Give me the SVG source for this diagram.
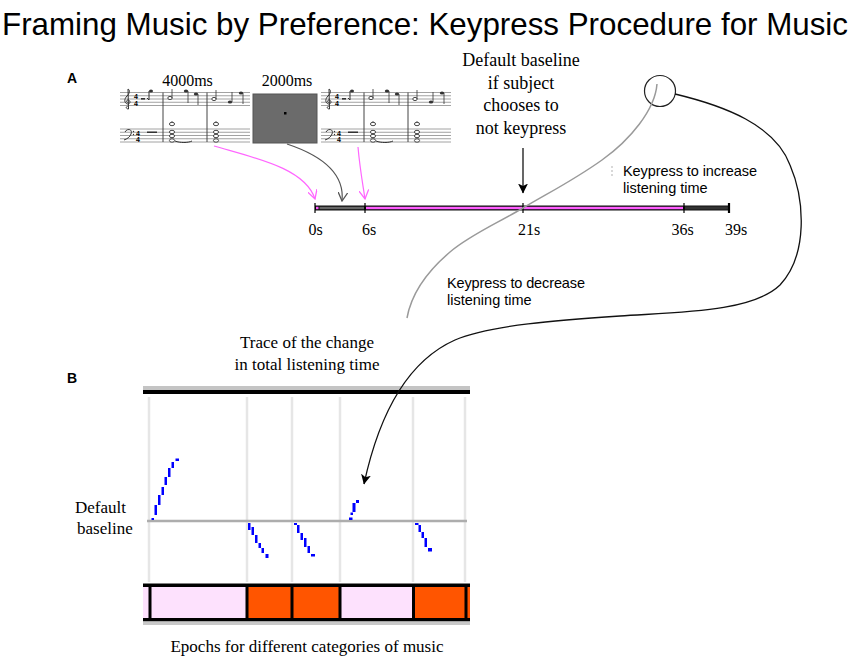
<svg xmlns="http://www.w3.org/2000/svg" xmlns:xlink="http://www.w3.org/1999/xlink" width="851" height="661" viewBox="0 0 851 661">
<style>
.sans{font-family:"Liberation Sans",Arial,sans-serif;fill:#000}
.serif{font-family:"Liberation Serif","Times New Roman",serif;fill:#000}
.staff{stroke:#8a8a8a;stroke-width:0.8;fill:none}
.ink{stroke:#333;stroke-width:1;fill:none}
.head{fill:#333}
.ohead{fill:#fff;stroke:#333;stroke-width:0.9}
.vgrid{stroke:#e6e6e6;stroke-width:2.5}
.blue{fill:#0000ff}
.div{stroke:#000;stroke-width:3}
</style>
<defs>
<marker id="pinkArrow" viewBox="0 0 10 10" refX="9" refY="5" markerWidth="10" markerHeight="10" markerUnits="userSpaceOnUse" orient="auto">
<path d="M0,0 L9,5 L0,10" fill="none" stroke="#ff66ff" stroke-width="1.3"/>
</marker>
<marker id="grayArrow" viewBox="0 0 10 10" refX="9" refY="5" markerWidth="10" markerHeight="10" markerUnits="userSpaceOnUse" orient="auto">
<path d="M0,0 L9,5 L0,10" fill="none" stroke="#555" stroke-width="1.3"/>
</marker>
<marker id="blackArrow" viewBox="0 0 10 10" refX="9.5" refY="5" markerWidth="10" markerHeight="10" markerUnits="userSpaceOnUse" orient="auto">
<path d="M0,0 L10,5 L0,10 L2.5,5 z" fill="#000"/>
</marker>
<symbol id="score" viewBox="0 0 130 58" width="130" height="58">
<g class="staff">
<path d="M0,4.5H130M0,7.75H130M0,11H130M0,14.25H130M0,17.5H130"/>
<path d="M0,41H130M0,44.25H130M0,47.5H130M0,50.75H130M0,54H130"/>
</g>
<path d="M43,4.5V54M87,4.5V54" stroke="#444" stroke-width="1"/>
<path class="ink" d="M8.5,21 C6,21 5.5,18.5 7.5,18.5 M8.5,21 L8,1 C10,2 10,5 7,8 C4,11 4,15 7.5,16 C10,16.5 11,13 8.5,12 C6.5,11.5 6,14 7.5,14.5"/>
<text x="14" y="11" class="sans" font-size="7" font-weight="bold" fill="#333">4</text>
<text x="14" y="17.5" class="sans" font-size="7" font-weight="bold" fill="#333">4</text>
<rect x="21" y="10" width="4" height="1.6" fill="#333"/>
<line x1="29" y1="3" x2="29" y2="12" stroke="#333"/>
<ellipse class="head" cx="31" cy="3" rx="2" ry="1.5"/>
<path class="ink" d="M29,12 L27,10"/>
<ellipse class="ohead" cx="50" cy="10" rx="2.2" ry="1.6"/>
<line x1="52" y1="10" x2="52" y2="1" stroke="#333" stroke-width="0.8"/>
<ellipse class="head" cx="66" cy="3" rx="2.2" ry="1.6"/>
<line x1="68" y1="3" x2="68" y2="15" stroke="#333" stroke-width="0.8"/>
<ellipse class="head" cx="76" cy="6" rx="2.2" ry="1.6"/>
<line x1="78" y1="6" x2="78" y2="17" stroke="#333" stroke-width="0.8"/>
<ellipse class="ohead" cx="94" cy="11" rx="2.2" ry="1.6"/>
<line x1="96" y1="11" x2="96" y2="2" stroke="#333" stroke-width="0.8"/>
<ellipse class="head" cx="110" cy="14" rx="2.2" ry="1.6"/>
<line x1="112" y1="14" x2="112" y2="4" stroke="#333" stroke-width="0.8"/>
<ellipse class="head" cx="121" cy="5" rx="2.2" ry="1.6"/>
<line x1="123" y1="5" x2="123" y2="16" stroke="#333" stroke-width="0.8"/>
<path class="ink" d="M5,44 C7,40 13,41 11,46 C10,49 7,51 4,52"/>
<circle cx="13.5" cy="43.5" r="0.7" fill="#333"/>
<circle cx="13.5" cy="46.5" r="0.7" fill="#333"/>
<text x="16" y="47.5" class="sans" font-size="7" font-weight="bold" fill="#333">4</text>
<text x="16" y="54" class="sans" font-size="7" font-weight="bold" fill="#333">4</text>
<rect x="27" y="43.5" width="10" height="1.5" fill="#333"/>
<g class="ohead">
<ellipse cx="52" cy="36" rx="2.6" ry="1.7"/><ellipse cx="52" cy="44" rx="2.6" ry="1.7"/><ellipse cx="52" cy="48" rx="2.6" ry="1.7"/><ellipse cx="52" cy="52.5" rx="2.6" ry="1.7"/>
<ellipse cx="96" cy="36" rx="2.6" ry="1.7"/><ellipse cx="96" cy="44" rx="2.6" ry="1.7"/><ellipse cx="96" cy="48" rx="2.6" ry="1.7"/><ellipse cx="96" cy="52.5" rx="2.6" ry="1.7"/>
</g>
<path d="M52,33.3 v0.8 M96,33.3 v0.8" stroke="#333" stroke-width="1"/>
<path d="M55,53 C60,55 68,55 72,53" class="ink" stroke-width="0.7"/>
</symbol>
</defs>
<rect width="851" height="661" fill="#fff"/>

<g id="title">
<text x="2" y="35" class="sans" font-size="30.5" textLength="846" lengthAdjust="spacingAndGlyphs">Framing Music by Preference: Keypress Procedure for Music</text>
</g>

<g id="panel-a">
<text x="67" y="83" class="sans" font-size="14" font-weight="bold">A</text>
<g id="score1">
<use xlink:href="#score" href="#score" x="120" y="88" width="130" height="58"/>
<text x="187.5" y="86" class="serif" font-size="16" text-anchor="middle">4000ms</text>
</g>
<g id="blank-screen">
<rect x="253" y="94" width="64" height="49" fill="#6b6b6b" stroke="#555" stroke-width="1"/>
<rect x="284" y="112" width="2.5" height="2.5" fill="#000"/>
<text x="287" y="86" class="serif" font-size="16" text-anchor="middle">2000ms</text>
</g>
<g id="score2">
<use xlink:href="#score" href="#score" x="321" y="88" width="130" height="58"/>
</g>
<g id="default-label">
<text class="serif" font-size="18" text-anchor="middle"><tspan x="521" y="66">Default  baseline</tspan><tspan x="521" y="88.5">if subject</tspan><tspan x="521" y="111">chooses to</tspan><tspan x="521" y="133.5">not keypress</tspan></text>
</g>
<g id="timeline">
<rect x="315" y="205.5" width="414" height="5" fill="#111"/>
<rect x="316" y="206.8" width="2.5" height="2.4" fill="#ff5cff"/>
<rect x="319.5" y="206.8" width="44.5" height="2.4" fill="#666"/>
<rect x="366" y="206.8" width="317" height="2.4" fill="#ff5cff"/>
<rect x="685" y="206.5" width="43" height="3" fill="#333"/>
<path d="M315,203V213M365,203V213M523,203V213M684,203V213" stroke="#000" stroke-width="1.2"/>
<path d="M729,203V213" stroke="#000" stroke-width="2.2"/>
<g class="serif" font-size="16" text-anchor="middle">
<text x="315.5" y="235">0s</text>
<text x="369" y="235">6s</text>
<text x="529" y="235">21s</text>
<text x="682.5" y="235">36s</text>
<text x="736" y="235">39s</text>
</g>
</g>
<g id="increase-label">
<path d="M612,166V178" stroke="#ccc" stroke-width="1.5" stroke-dasharray="2,2"/>
<text class="sans" font-size="14.5"><tspan x="623" y="176" textLength="134">Keypress to increase</tspan><tspan x="623" y="193">listening time</tspan></text>
</g>
<g id="decrease-label">
<text class="sans" font-size="14.5"><tspan x="447" y="288" textLength="138">Keypress to decrease</tspan><tspan x="447" y="304.5">listening time</tspan></text>
</g>
<g id="zoom-circle">
<circle cx="660" cy="91" r="15.5" fill="none" stroke="#222" stroke-width="1.2"/>
</g>
</g>

<g id="panel-b">
<text x="67" y="383" class="sans" font-size="14" font-weight="bold">B</text>
<text class="serif" font-size="17" text-anchor="middle"><tspan x="307" y="348">Trace of the change</tspan><tspan x="307" y="370">in total listening  time</tspan></text>
<text class="serif" font-size="17"><tspan x="75" y="513">Default</tspan><tspan x="77" y="534">baseline</tspan></text>
<g id="chart">
<rect x="143" y="386" width="327" height="4" fill="#c4c4c4"/>
<rect x="143" y="390" width="327" height="4" fill="#000"/>
<path class="vgrid" d="M149,397V582M247,397V582M292,397V582M340,397V582M413,397V582M465,397V582"/>
<line x1="147" y1="521" x2="467" y2="521" stroke="#adadad" stroke-width="2.5"/>
<g id="trace1" class="blue">
<rect x="151.5" y="518" width="2.5" height="2"/>
<rect x="154.5" y="505" width="2.5" height="10"/>
<rect x="158" y="495" width="2.5" height="10"/>
<rect x="161.5" y="487" width="2.5" height="8"/>
<rect x="164.5" y="477" width="2.5" height="8"/>
<rect x="168" y="468" width="2.5" height="9"/>
<rect x="171.5" y="462" width="2.5" height="6"/>
<rect x="175.5" y="458.5" width="3.5" height="2.5"/>
</g>
<g id="trace2" class="blue">
<rect x="248" y="523" width="2.5" height="7"/>
<rect x="251.5" y="527" width="2.5" height="8"/>
<rect x="255" y="535" width="2.5" height="8"/>
<rect x="258.5" y="543" width="2.5" height="5"/>
<rect x="261.5" y="548" width="2.5" height="5"/>
<rect x="265.5" y="554" width="3" height="4"/>
</g>
<g id="trace3" class="blue">
<rect x="294" y="523" width="3" height="2"/>
<rect x="297" y="525" width="2.5" height="8"/>
<rect x="300.5" y="533" width="2.5" height="7"/>
<rect x="304" y="538" width="2.5" height="9"/>
<rect x="307.5" y="546" width="2.5" height="7"/>
<rect x="311" y="554" width="4" height="2.5"/>
</g>
<g id="trace4" class="blue">
<rect x="349" y="517.5" width="3.5" height="2.5"/>
<rect x="350.5" y="512.5" width="2.5" height="2.5"/>
<rect x="352.5" y="503" width="3" height="9"/>
<rect x="356" y="500" width="3" height="3"/>
</g>
<g id="trace5" class="blue">
<rect x="415" y="523" width="3.5" height="2"/>
<rect x="418.5" y="525" width="2.5" height="7"/>
<rect x="421.5" y="532" width="2.5" height="6"/>
<rect x="424.5" y="538" width="2.5" height="9"/>
<rect x="428" y="548" width="4" height="3.5"/>
</g>
</g>
<g id="epochs">
<rect x="143" y="586" width="327" height="33" fill="#fde1fd"/>
<rect x="247" y="586" width="45" height="33" fill="#ff5500"/>
<rect x="292" y="586" width="48" height="33" fill="#ff5500"/>
<rect x="413" y="586" width="53" height="33" fill="#ff5500"/>
<rect x="466" y="586" width="4" height="33" fill="#ff5500"/>
<rect x="143" y="583.5" width="327" height="3.5" fill="#000"/>
<rect x="143" y="618" width="327" height="3.5" fill="#000"/>
<rect x="143" y="621.5" width="327" height="3.5" fill="#c8c8c8"/>
<path class="div" d="M150,586V619M247,586V619M292,586V619M340,586V619M413.5,586V619M466,586V619"/>
<text x="307" y="652" class="serif" font-size="17" text-anchor="middle">Epochs for different categories of music</text>
</g>
</g>

<g id="connectors" fill="none">
<path d="M214,146 C255,158 305,168 315,199" stroke="#ff66ff" stroke-width="1.2" marker-end="url(#pinkArrow)"/>
<path d="M287,144 C320,155 345,172 342,201" stroke="#555" stroke-width="1.2" marker-end="url(#grayArrow)"/>
<path d="M358,147 C360,170 363,185 365,199" stroke="#ff66ff" stroke-width="1.2" marker-end="url(#pinkArrow)"/>
<path d="M523,148 V193" stroke="#000" stroke-width="1.2" marker-end="url(#blackArrow)"/>
<path d="M657,84 C655,110 630,140 602,160 S550,192 523,208 S470,235 450,252 S412,290 407,318" stroke="#9a9a9a" stroke-width="1.5"/>
<path d="M675,94 C725,106 775,125 790,165 C805,200 808,255 780,285 C752,312 680,312 620,316 C560,320 490,325 455,340 C410,360 380,410 364,484" stroke="#111" stroke-width="1.3" marker-end="url(#blackArrow)"/>
</g>
</svg>
